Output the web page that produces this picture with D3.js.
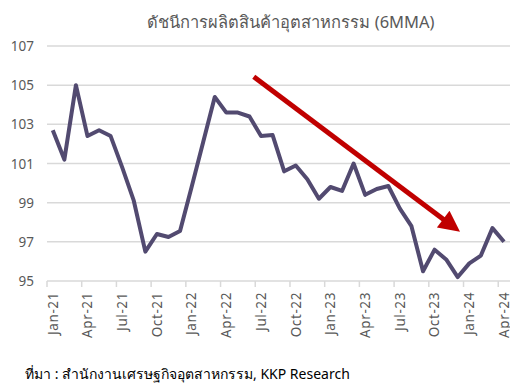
<!DOCTYPE html>
<html>
<head>
<meta charset="utf-8">
<script src="https://cdn.jsdelivr.net/npm/d3@7"></script>
<style>
  body { margin: 0; background: #fff; }
  text { font-family: "Noto Sans", "DejaVu Sans", sans-serif; }
</style>
</head>
<body>
<div id="chartdiv"></div>
<script>
// months Jan-21 .. Apr-24
var months = ["Jan-21","Feb-21","Mar-21","Apr-21","May-21","Jun-21","Jul-21","Aug-21","Sep-21","Oct-21","Nov-21","Dec-21",
              "Jan-22","Feb-22","Mar-22","Apr-22","May-22","Jun-22","Jul-22","Aug-22","Sep-22","Oct-22","Nov-22","Dec-22",
              "Jan-23","Feb-23","Mar-23","Apr-23","May-23","Jun-23","Jul-23","Aug-23","Sep-23","Oct-23","Nov-23","Dec-23",
              "Jan-24","Feb-24","Mar-24","Apr-24"];

// industrial production index, 6MMA
var values = [102.7, 101.2, 105.0, 102.4, 102.7, 102.4, 100.8, 99.1, 96.5, 97.4, 97.25, 97.55,
              99.8, 102.1, 104.4, 103.6, 103.6, 103.4, 102.4, 102.45, 100.6, 100.9, 100.2, 99.2,
              99.8, 99.6, 101.0, 99.4, 99.7, 99.85, 98.7, 97.8, 95.5, 96.6, 96.1, 95.2,
              95.9, 96.3, 97.7, 97.0];

var yTicks = [95, 97, 99, 101, 103, 105, 107];

// trend arrow, in month-position / index units
var arrowFrom = [17.87, 105.43];
var arrowTo = [35.73, 97.5];

var svgWidth = 510;
var svgHeight = 390;

var margin = { top: 46, right: 0, bottom: 109, left: 47 };
var width = svgWidth - margin.left - margin.right;
var height = svgHeight - margin.top - margin.bottom;

var svg = d3.select("#chartdiv")
    .append("svg")
    .attr("width", svgWidth)
    .attr("height", svgHeight);

var chartGroup = svg.append("g")
    .attr("transform", `translate(${margin.left}, ${margin.top})`);

// continuous x in month units so ticks sit between categories
var xScale = d3.scaleLinear()
    .domain([0, 40.2])
    .range([0, 40.2 * 11.57]);

var yScale = d3.scaleLinear()
    .domain([95, 107])
    .range([235, 0]);

// gridlines
chartGroup.selectAll(".grid")
    .data(yTicks.slice(1))
    .enter()
    .append("line")
    .attr("x1", 0)
    .attr("x2", width)
    .attr("y1", d => yScale(d))
    .attr("y2", d => yScale(d))
    .attr("stroke", "#d9d9d9")
    .attr("stroke-width", 1.5);

// y labels
chartGroup.selectAll(".ylab")
    .data(yTicks)
    .enter()
    .append("text")
    .attr("x", -13)
    .attr("y", d => yScale(d) + 5)
    .attr("text-anchor", "end")
    .attr("font-size", 13.5)
    .attr("fill", "#595959")
    .text(d => d);

// x axis line + ticks every 3 months
chartGroup.append("line")
    .attr("x1", 0)
    .attr("x2", width)
    .attr("y1", yScale(95))
    .attr("y2", yScale(95))
    .attr("stroke", "#d9d9d9")
    .attr("stroke-width", 1.5);

var tickIdx = d3.range(0, 40, 3);

chartGroup.selectAll(".xtick")
    .data(tickIdx)
    .enter()
    .append("line")
    .attr("x1", d => xScale(d))
    .attr("x2", d => xScale(d))
    .attr("y1", yScale(95))
    .attr("y2", yScale(95) + 6)
    .attr("stroke", "#d9d9d9")
    .attr("stroke-width", 1.5);

chartGroup.selectAll(".xlab")
    .data(tickIdx)
    .enter()
    .append("text")
    .attr("transform", d => `translate(${xScale(d + 0.5) + 4.8}, ${yScale(95) + 11}) rotate(-90)`)
    .attr("text-anchor", "end")
    .attr("font-size", 13.5)
    .attr("letter-spacing", 0.6)
    .attr("fill", "#595959")
    .text(d => months[d]);

// the line
var line = d3.line()
    .x((d, i) => xScale(i + 0.5))
    .y(d => yScale(d));

chartGroup.append("path")
    .datum(values)
    .attr("d", line)
    .attr("fill", "none")
    .attr("stroke", "#524a70")
    .attr("stroke-width", 4)
    .attr("stroke-linejoin", "round");

// red trend arrow
svg.append("defs").append("marker")
    .attr("id", "head")
    .attr("viewBox", "0 0 10 10")
    .attr("refX", 5)
    .attr("refY", 5)
    .attr("markerWidth", 4.6)
    .attr("markerHeight", 4.2)
    .attr("orient", "auto")
    .attr("markerUnits", "strokeWidth")
    .append("path")
    .attr("d", "M0,0 L10,5 L0,10 z")
    .attr("fill", "#c00000");

var ax1 = xScale(arrowFrom[0]), ay1 = yScale(arrowFrom[1]);
var ax2 = xScale(arrowTo[0]), ay2 = yScale(arrowTo[1]);
var len = Math.hypot(ax2 - ax1, ay2 - ay1);
var shorten = 11;
chartGroup.append("line")
    .attr("x1", ax1)
    .attr("y1", ay1)
    .attr("x2", ax2 - (ax2 - ax1) / len * shorten)
    .attr("y2", ay2 - (ay2 - ay1) / len * shorten)
    .attr("stroke", "#c00000")
    .attr("stroke-width", 5)
    .attr("marker-end", "url(#head)");

// title
svg.append("text")
    .attr("x", 291)
    .attr("y", 28)
    .attr("text-anchor", "middle")
    .attr("font-size", 16.5)
    .attr("fill", "#595959")
    .text("ดัชนีการผลิตสินค้าอุตสาหกรรม (6MMA)");

// source
svg.append("text")
    .attr("x", 25)
    .attr("y", 379)
    .attr("font-size", 14)
    .attr("fill", "#000")
    .text("ที่มา : สำนักงานเศรษฐกิจอุตสาหกรรม, KKP Research");
</script>
</body>
</html>
